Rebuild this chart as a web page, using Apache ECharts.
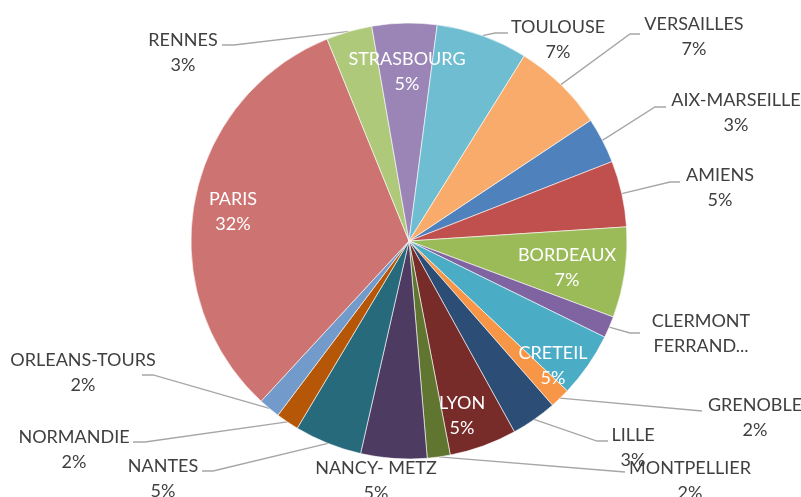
<!DOCTYPE html>
<html>
<head>
<meta charset="utf-8">
<script src="https://cdn.jsdelivr.net/npm/echarts@6/dist/echarts.min.js"></script>
<style>
  html, body { margin: 0; padding: 0; background: #fff; }
  #pie_main { width: 801px; height: 497px; }
</style>
</head>
<body>
<div id="pie_main"></div>
<script>
// académies, dans l'ordre du tableau
var academies = ["AIX-MARSEILLE", "AMIENS", "BORDEAUX", "CLERMONT FERRAND", "CRETEIL", "GRENOBLE",
  "LILLE", "LYON", "MONTPELLIER", "NANCY- METZ", "NANTES", "NORMANDIE", "ORLEANS-TOURS",
  "PARIS", "RENNES", "STRASBOURG", "TOULOUSE", "VERSAILLES"];
// part de chaque académie (%)
var parts = [3.4, 4.9, 6.7, 1.6, 4.8, 1.5, 3.4, 5.0, 1.7, 4.9, 5.0, 1.7, 1.6, 32.0, 3.4, 4.8, 6.8, 6.8];

// couleurs type Office
var couleurs = ["#4f81bd", "#c0504d", "#9bbb59", "#8064a2", "#4bacc6", "#f79646",
  "#2c4d75", "#772c2a", "#5f7530", "#4d3b62", "#276a7c", "#b65708",
  "#729aca", "#cd7371", "#afc97a", "#9a85b6", "#6fbdd1", "#f9ab6b"];

// étiquettes écrites dans la part
var dedans = ["PARIS", "STRASBOURG", "BORDEAUX", "CRETEIL", "LYON"];

// placement des étiquettes (centre du bloc) et coude / fin du trait de rappel
var placement = {
  "AIX-MARSEILLE": { x: 736, y: 113, trait: [[655, 107], [666, 107]] },
  "AMIENS": { x: 720, y: 188, trait: [[670, 182], [680, 182]] },
  "BORDEAUX": { x: 567, y: 268 },
  "CLERMONT FERRAND": { x: 701, y: 334, trait: [[630, 333], [640, 333]] },
  "CRETEIL": { x: 553, y: 366 },
  "GRENOBLE": { x: 755, y: 418, trait: [[702, 411]] },
  "LILLE": { x: 633, y: 448, trait: [[597, 441], [608, 441]] },
  "LYON": { x: 462, y: 416 },
  "MONTPELLIER": { x: 690, y: 481, trait: [[625, 472]] },
  "NANCY- METZ": { x: 376, y: 481 },
  "NANTES": { x: 163, y: 479, trait: [[213, 471], [202, 471]] },
  "NORMANDIE": { x: 74, y: 450, trait: [[145, 442], [133, 442]] },
  "ORLEANS-TOURS": { x: 83, y: 373, trait: [[153, 375], [142, 375]] },
  "PARIS": { x: 233, y: 212 },
  "RENNES": { x: 183, y: 53, trait: [[234, 45], [222, 45]] },
  "STRASBOURG": { x: 407, y: 72 },
  "TOULOUSE": { x: 558, y: 40, trait: [[495, 33], [508, 33]] },
  "VERSAILLES": { x: 694, y: 37, trait: [[630, 34], [640, 34]] }
};

var myChart = echarts.init(document.getElementById("pie_main"));

var donnees = academies.map(function (nom, i) {
  var interne = dedans.indexOf(nom) >= 0;
  return {
    name: nom,
    value: parts[i],
    itemStyle: { color: couleurs[i] },
    label: {
      position: interne ? "inside" : "outside",
      color: interne ? "#ffffff" : "#404040"
    },
    labelLine: { show: !interne && !!placement[nom].trait }
  };
});

myChart.setOption({
  animation: false,
  series: [
    {
      name: "Académies",
      type: "pie",
      center: [409, 241],
      radius: 218,
      // premier secteur décalé comme dans le classeur
      startAngle: 33.6,
      clockwise: true,
      avoidLabelOverlap: false,
      itemStyle: {
        borderColor: "#ffffff",
        borderWidth: 0.6
      },
      label: {
        fontFamily: "Lato",
        fontSize: 18,
        lineHeight: 25,
        formatter: function (p) {
          //nom trop long : tronqué comme dans l'original
          if (p.name === "CLERMONT FERRAND") {
            return "{n|CLERMONT}\n{n|FERRAND...}";
          }
          return "{n|" + p.name + "}\n{n|" + Math.round(p.percent) + "%}";
        },
        rich: {
          n: { align: "center", lineHeight: 25 }
        }
      },
      labelLine: {
        lineStyle: { color: "#a6a6a6", width: 1.3 }
      },
      labelLayout: function (params) {
        var nom = academies[params.dataIndex];
        var pl = placement[nom];
        var res = { x: pl.x, y: pl.y, align: "center", verticalAlign: "middle" };
        if (pl.trait && params.labelLinePoints) {
          res.labelLinePoints = [params.labelLinePoints[0]].concat(pl.trait);
        }
        return res;
      },
      data: donnees
    }
  ]
});
</script>
</body>
</html>
